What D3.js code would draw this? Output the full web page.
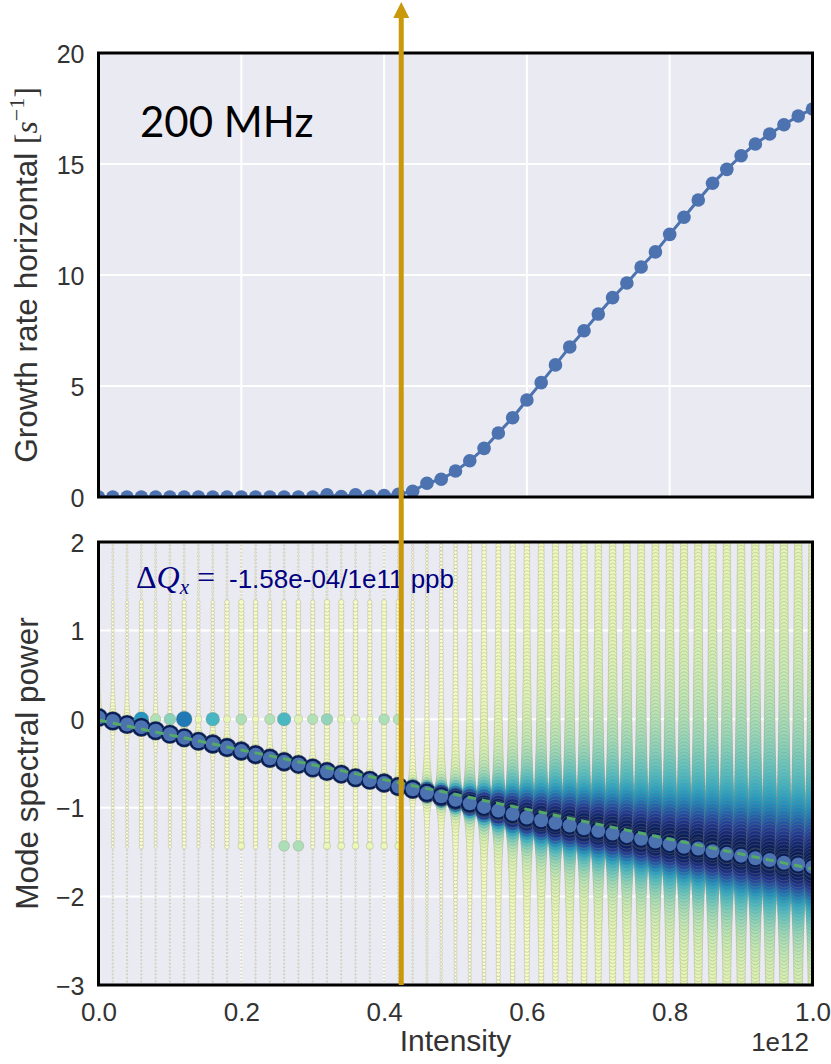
<!DOCTYPE html>
<html>
<head>
<meta charset="utf-8">
<script src="https://cdn.jsdelivr.net/npm/d3@7"></script>
<style>
  body { margin: 0; background: #fff; }
  svg { display: block; }
</style>
</head>
<body>
<div id="chart"></div>
<script>
// ---- data (intensity in units of 1e12) ----
var intensity = [0.00, 0.02, 0.04, 0.06, 0.08, 0.10, 0.12, 0.14, 0.16, 0.18, 0.20, 0.22, 0.24, 0.26, 0.28, 0.30, 0.32, 0.34, 0.36, 0.38, 0.40, 0.42, 0.44, 0.46, 0.48, 0.50, 0.52, 0.54, 0.56, 0.58, 0.60, 0.62, 0.64, 0.66, 0.68, 0.70, 0.72, 0.74, 0.76, 0.78, 0.80, 0.82, 0.84, 0.86, 0.88, 0.90, 0.92, 0.94, 0.96, 0.98, 1.00];

var growthRate = [0, 0, 0, 0, 0, 0, 0, 0, 0, 0, 0, 0, 0, 0, 0, 0, 0.1, 0.02, 0.1, 0.03, 0.06, 0.12, 0.26, 0.62, 0.8, 1.17, 1.63, 2.19, 2.88, 3.57, 4.37, 5.15, 5.95, 6.76, 7.49, 8.24, 8.98, 9.64, 10.36, 11.04, 11.83, 12.6, 13.38, 14.13, 14.76, 15.37, 15.9, 16.35, 16.77, 17.16, 17.48];

// tune of the strongest spectral line (y of the big blue markers)
var modeTune = [0.02, -0.02, -0.06, -0.09, -0.13, -0.17, -0.21, -0.25, -0.28, -0.32, -0.36, -0.40, -0.44, -0.48, -0.51, -0.55, -0.59, -0.62, -0.66, -0.69, -0.72, -0.76, -0.79, -0.83, -0.87, -0.91, -0.95, -0.99, -1.03, -1.07, -1.11, -1.14, -1.17, -1.20, -1.23, -1.26, -1.29, -1.32, -1.35, -1.38, -1.41, -1.44, -1.46, -1.49, -1.52, -1.54, -1.57, -1.59, -1.62, -1.64, -1.67];

// half width of the spectral line above / below the mode (tune units)
var widthAbove = [0.008, 0.008, 0.008, 0.008, 0.008, 0.008, 0.008, 0.008, 0.008, 0.008, 0.008, 0.008, 0.008, 0.008, 0.008, 0.008, 0.008, 0.008, 0.008, 0.008, 0.008, 0.01, 0.018, 0.03, 0.045, 0.06, 0.08, 0.105, 0.13, 0.16, 0.19, 0.21, 0.23, 0.25, 0.26, 0.28, 0.29, 0.31, 0.32, 0.34, 0.35, 0.37, 0.375, 0.39, 0.40, 0.41, 0.42, 0.43, 0.435, 0.44, 0.45];
var widthBelow = [0.008, 0.008, 0.008, 0.008, 0.008, 0.008, 0.008, 0.008, 0.008, 0.008, 0.008, 0.008, 0.008, 0.008, 0.008, 0.008, 0.008, 0.008, 0.008, 0.008, 0.008, 0.01, 0.014, 0.026, 0.035, 0.048, 0.062, 0.08, 0.097, 0.115, 0.13, 0.145, 0.16, 0.167, 0.176, 0.185, 0.194, 0.2, 0.21, 0.22, 0.23, 0.24, 0.245, 0.255, 0.265, 0.27, 0.277, 0.28, 0.29, 0.295, 0.3];

// relative side-lobe level between tune -1.45 and 1.35
var sideLobe = [0.0008, 0.0015, 0.0015, 0.005, 0.0015, 0.002, 0.005, 0.002, 0.0025, 0.007, 0.012, 0.007, 0.0035, 0.007, 0.007, 0.005, 0.012, 0.011, 0.008, 0.006, 0.01, 0.008, 0.0025, 0, 0, 0, 0, 0, 0, 0, 0, 0, 0, 0, 0, 0, 0, 0, 0, 0, 0, 0, 0, 0, 0, 0, 0, 0, 0, 0, 0];
var lobeBand = [-1.45, 1.35];

// secondary lines at tune 0 and tune -1.43 (relative power)
var zeroPeak = [0, 0, 0, 0.43, 0.12, 0.18, 0.53, 0.03, 0.31, 0.03, 0.13, 0.02, 0.12, 0.3, 0.05, 0.12, 0.17, 0.04, 0.06, 0.02, 0.13, 0.12, 0, 0, 0, 0, 0, 0, 0, 0, 0, 0, 0, 0, 0, 0, 0, 0, 0, 0, 0, 0, 0, 0, 0, 0, 0, 0, 0, 0, 0];
var lowPeak = [0, 0, 0, 0, 0, 0, 0, 0, 0, 0, 0.025, 0, 0, 0.13, 0.13, 0, 0.03, 0.03, 0.025, 0.03, 0.025, 0.03, 0, 0, 0, 0, 0, 0, 0, 0, 0, 0, 0, 0, 0, 0, 0, 0, 0, 0, 0, 0, 0, 0, 0, 0, 0, 0, 0, 0, 0];
var lowPeakTune = -1.43;

var fitLine = [[0, -0.01], [1.0, -1.69]];
var threshold = 0.424;

var growthTicks = [0, 5, 10, 15, 20];
var powerTicks = [-3, -2, -1, 0, 1, 2];
var intensityTicks = [0, 0.2, 0.4, 0.6, 0.8, 1.0];

// ---- layout ----
var W = 831, H = 1064;
var left = 98.5, right = 812.5;
var top1 = 53, bot1 = 497;
var top2 = 542, bot2 = 985;
var bg = '#EAEAF2';
var blue = '#4C72B0';
var green = '#55A868';
var textCol = '#333';
var sans = 'Liberation Sans, Arial, sans-serif';
var serif = 'Liberation Serif, serif';

var svg = d3.select('#chart').append('svg').attr('width', W).attr('height', H);

var x = d3.scaleLinear().domain([0, 1]).range([left, right]);
var yG = d3.scaleLinear().domain([0, 20]).range([bot1, top1]);
var yP = d3.scaleLinear().domain([-3, 2]).range([bot2, top2]);

var rScale = d3.scalePow().exponent(0.28).domain([0, 1]).range([0, 9.5]).clamp(true);
var cScale = d3.scaleSequentialPow(d3.interpolateYlGnBu).exponent(0.6).domain([0, 1]).clamp(true);

var defs = svg.append('defs');
defs.append('clipPath').attr('id', 'clip1').append('rect')
	.attr('x', left).attr('y', top1).attr('width', right - left).attr('height', bot1 - top1);
defs.append('clipPath').attr('id', 'clip2').append('rect')
	.attr('x', left).attr('y', top2).attr('width', right - left).attr('height', bot2 - top2);

// ================= top panel =================
var p1 = svg.append('g');
p1.append('rect').attr('x', left).attr('y', top1).attr('width', right - left).attr('height', bot1 - top1).attr('fill', bg);

p1.selectAll('.gx').data(intensityTicks.slice(1, -1)).enter().append('line')
	.attr('x1', function(d) { return x(d); }).attr('x2', function(d) { return x(d); })
	.attr('y1', top1).attr('y2', bot1).attr('stroke', '#fff').attr('stroke-width', 2);
p1.selectAll('.gy').data(growthTicks.slice(1, -1)).enter().append('line')
	.attr('y1', function(d) { return yG(d); }).attr('y2', function(d) { return yG(d); })
	.attr('x1', left).attr('x2', right).attr('stroke', '#fff').attr('stroke-width', 2);

var growth = intensity.map(function(d, i) { return { x: d, y: growthRate[i] }; });
var c1 = p1.append('g').attr('clip-path', 'url(#clip1)');
c1.append('path').datum(growth)
	.attr('d', d3.line().x(function(d) { return x(d.x); }).y(function(d) { return yG(d.y); }))
	.attr('fill', 'none').attr('stroke', blue).attr('stroke-width', 3);
c1.selectAll('circle').data(growth).enter().append('circle')
	.attr('cx', function(d) { return x(d.x); })
	.attr('cy', function(d) { return yG(d.y); })
	.attr('r', 6.8).attr('fill', blue);

p1.append('rect').attr('x', left).attr('y', top1).attr('width', right - left).attr('height', bot1 - top1)
	.attr('fill', 'none').attr('stroke', '#000').attr('stroke-width', 3);

var axG = p1.append('g').attr('transform', 'translate(' + (left - 14) + ',0)')
	.call(d3.axisLeft(yG).tickValues(growthTicks).tickSize(0).tickFormat(d3.format('d')));
axG.select('.domain').remove();
axG.selectAll('text').attr('font-family', sans).attr('font-size', 25)
	.attr('fill', textCol).attr('x', 0).attr('dy', '0.36em');

var lab1 = p1.append('text')
	.attr('transform', 'translate(37,' + ((top1 + bot1) / 2) + ') rotate(-90)')
	.attr('text-anchor', 'middle').attr('font-family', sans)
	.attr('font-size', 31.5).attr('fill', textCol);
lab1.append('tspan').text('Growth rate horizontal ');
lab1.append('tspan').attr('font-family', serif).text('[');
lab1.append('tspan').attr('font-family', serif).attr('font-style', 'italic').text('s');
lab1.append('tspan').attr('font-family', serif).attr('font-size', 22).attr('dy', -13).text('\u22121');
lab1.append('tspan').attr('font-family', serif).attr('dy', 13).text(']');

p1.append('text').attr('x', 140).attr('y', 137)
	.attr('font-family', 'Lato, Open Sans, sans-serif').attr('font-size', 42).attr('fill', '#000')
	.text('200 MHz');

// ================= bottom panel =================
var p2 = svg.append('g');
p2.append('rect').attr('x', left).attr('y', top2).attr('width', right - left).attr('height', bot2 - top2).attr('fill', bg);
p2.selectAll('.gx').data(intensityTicks.slice(1, -1)).enter().append('line')
	.attr('x1', function(d) { return x(d); }).attr('x2', function(d) { return x(d); })
	.attr('y1', top2).attr('y2', bot2).attr('stroke', '#fff').attr('stroke-width', 2);
p2.selectAll('.gy').data(powerTicks.slice(1, -1)).enter().append('line')
	.attr('y1', function(d) { return yP(d); }).attr('y2', function(d) { return yP(d); })
	.attr('x1', left).attr('x2', right).attr('stroke', '#fff').attr('stroke-width', 2);

var c2 = p2.append('g').attr('clip-path', 'url(#clip2)');

// spectrum columns: one column of circles per intensity, sized / coloured by relative power
var tuneGrid = d3.range(-3, 2.0001, 0.04);
intensity.forEach(function(I, i) {
	var m = modeTune[i];
	var pts = tuneGrid.map(function(q) {
		var d = q - m;
		var w = d > 0 ? widthAbove[i] : widthBelow[i];
		var e = d > 0 ? 0.75 : 0.9;
		var s = Math.pow(1 + (d / w) * (d / w), -e);
		if (q >= lobeBand[0] && q <= lobeBand[1]) s = Math.max(s, sideLobe[i]);
		return { q: q, s: s };
	});
	if (zeroPeak[i] > 0) pts.push({ q: 0, s: zeroPeak[i] });
	if (lowPeak[i] > 0) pts.push({ q: lowPeakTune, s: lowPeak[i] });
	pts.push({ q: m, s: 1 });
	pts.sort(function(a, b) { return a.s - b.s; });

	c2.append('g').selectAll('circle').data(pts).enter().append('circle')
		.attr('cx', x(I))
		.attr('cy', function(d) { return yP(d.q); })
		.attr('r', function(d) { return Math.max(0.7, rScale(d.s)); })
		.attr('fill', function(d) { return cScale(d.s); })
		.attr('stroke', '#8a8a70').attr('stroke-opacity', 0.6).attr('stroke-width', 0.5);
});

var modes = intensity.map(function(d, i) { return { x: d, y: modeTune[i] }; });
c2.selectAll('.mode').data(modes).enter().append('circle')
	.attr('cx', function(d) { return x(d.x); })
	.attr('cy', function(d) { return yP(d.y); })
	.attr('r', 7).attr('fill', blue);

c2.append('path').datum(fitLine)
	.attr('d', d3.line().x(function(d) { return x(d[0]); }).y(function(d) { return yP(d[1]); }))
	.attr('fill', 'none').attr('stroke', green).attr('stroke-width', 3).attr('stroke-dasharray', '8.5,6');

p2.append('rect').attr('x', left).attr('y', top2).attr('width', right - left).attr('height', bot2 - top2)
	.attr('fill', 'none').attr('stroke', '#000').attr('stroke-width', 3);

var axP = p2.append('g').attr('transform', 'translate(' + (left - 14) + ',0)')
	.call(d3.axisLeft(yP).tickValues(powerTicks).tickSize(0).tickFormat(function(d) { return d < 0 ? '\u2212' + (-d) : d; }));
axP.select('.domain').remove();
axP.selectAll('text').attr('font-family', sans).attr('font-size', 25)
	.attr('fill', textCol).attr('x', 0).attr('dy', '0.36em');

var axX = p2.append('g').attr('transform', 'translate(0,' + (bot2 + 14) + ')')
	.call(d3.axisBottom(x).tickValues(intensityTicks).tickSize(0).tickFormat(d3.format('.1f')));
axX.select('.domain').remove();
axX.selectAll('text').attr('font-family', sans).attr('font-size', 26)
	.attr('fill', textCol).attr('y', 0).attr('dy', '0.85em');

p2.append('text').attr('x', (left + right) / 2).attr('y', 1051).attr('text-anchor', 'middle')
	.attr('font-family', sans).attr('font-size', 30).attr('fill', textCol)
	.text('Intensity');
p2.append('text').attr('x', 809).attr('y', 1051).attr('text-anchor', 'end')
	.attr('font-family', sans).attr('font-size', 26).attr('fill', textCol)
	.text('1e12');
p2.append('text')
	.attr('transform', 'translate(38,' + ((top2 + bot2) / 2) + ') rotate(-90)')
	.attr('text-anchor', 'middle').attr('font-family', sans)
	.attr('font-size', 31.5).attr('fill', textCol).text('Mode spectral power');

var dq = p2.append('text').attr('x', 136).attr('y', 588).attr('fill', '#000080')
	.attr('font-family', serif).attr('font-size', 32);
dq.append('tspan').text('\u0394');
dq.append('tspan').attr('font-style', 'italic').text('Q');
dq.append('tspan').attr('font-style', 'italic').attr('font-size', 21).attr('dy', 6).text('x');
dq.append('tspan').attr('dy', -6).text(' =');
dq.append('tspan').attr('x', 229).attr('font-family', sans).attr('font-size', 26)
	.text('-1.58e-04/1e11 ppb');

// ================= threshold arrow =================
var ax = x(threshold);
var gold = '#C9980B';
svg.append('line').attr('x1', ax).attr('x2', ax).attr('y1', bot2).attr('y2', 16)
	.attr('stroke', gold).attr('stroke-width', 5);
svg.append('path')
	.attr('d', 'M' + ax + ',2 L' + (ax - 8) + ',18 L' + (ax + 8) + ',18 Z')
	.attr('fill', gold);
</script>
</body>
</html>
